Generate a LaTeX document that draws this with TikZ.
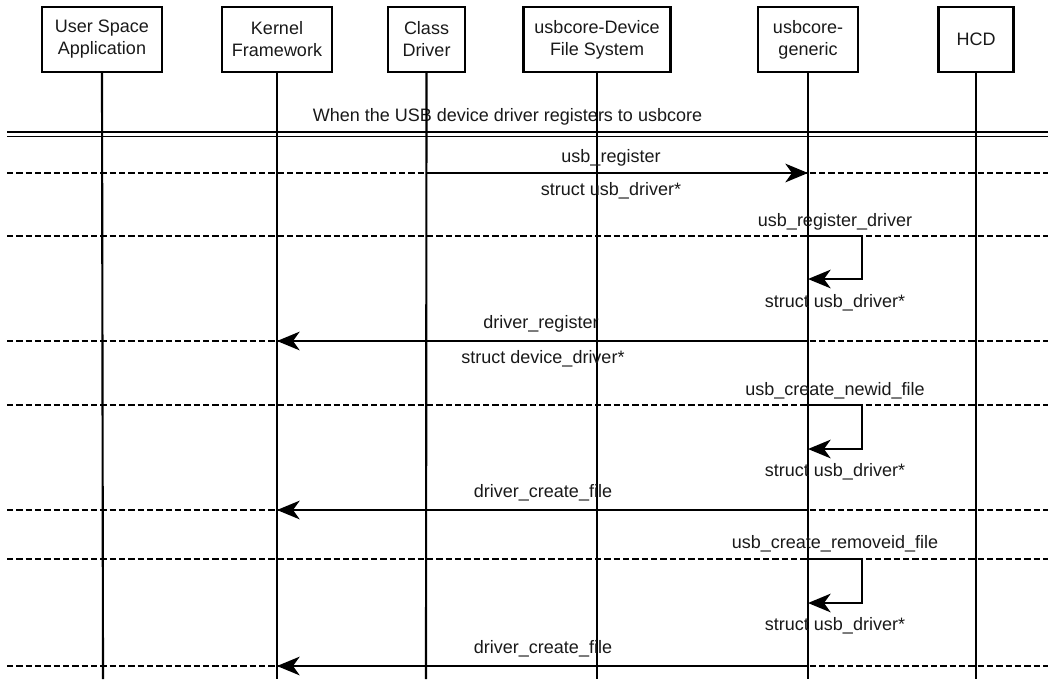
\documentclass[tikz,border=0pt]{standalone}
\usepackage{fontspec}
\setmainfont{Liberation Sans}
\usetikzlibrary{arrows.meta}
\begin{document}
\begin{tikzpicture}[x=0.75pt,y=-0.75pt,
  actor/.style={draw,line width=1.8pt,minimum height=48.75pt,align=center,
    font=\fontsize{13.5}{16.5}\selectfont,inner sep=1pt,text=black!90},
  life/.style={line width=1.6pt},
  sep/.style={line width=1.6pt,dash pattern=on 4.8pt off 2.2pt},
  dbl/.style={line width=1.4pt},
  msg/.style={line width=1.6pt,-{Stealth[length=17pt,width=14pt,inset=5pt]}},
  lbl/.style={font=\fontsize{13.5}{16}\selectfont,inner sep=0pt,anchor=base,text=black!90}]
\useasboundingbox (0,0) rectangle (1048,679);

% actors
\node[actor,minimum width=90pt]    (usa) at (102,39.5) {User Space\\Application};
\node[actor,minimum width=82.5pt]  (kf)  at (277,39.5) {Kernel\\Framework};
\node[actor,minimum width=57.75pt] (cd)  at (426.5,39.5) {Class\\Driver};
\node[actor,minimum width=110pt]   (fs)  at (597,39.5) {usbcore-Device\\File System};
\node[actor,minimum width=75pt]    (ug)  at (808,39.5) {usbcore-\\generic};
\node[actor,minimum width=56.5pt]  (hcd) at (976,39.5) {HCD};

% lifeline ends
\coordinate (usaE) at (103,679);
\coordinate (kfE)  at (277,679);
\coordinate (cdE)  at (426,679);
\coordinate (fsE)  at (597,679);
\coordinate (ugE)  at (808,679);
\coordinate (hcdE) at (976,679);

% section divider
\node[lbl] (sec) at (507.5,121) {When the USB device driver registers to usbcore};
\coordinate (dL1) at (7,132);   \coordinate (dR1) at (1048,132);
\coordinate (dL2) at (7,136.5); \coordinate (dR2) at (1048,136.5);
\draw[dbl] (dL1) -- (dR1);
\draw[dbl] (dL2) -- (dR2);

% dashed separators
\foreach \y/\n in {173/a,236/b,341/c,405/d,510/e,559/f,666/g}{
  \coordinate (sL\n) at (7,\y);
  \coordinate (sR\n) at (1048,\y);
  \draw[sep] (sL\n) -- (sR\n);
}

% lifelines
\draw[life] (usa.south) -- (usaE);
\draw[life] (kf.south) -- (kfE);
\draw[life] (cd.south) -- (cdE);
\draw[life] (fs.south) -- (fsE);
\draw[life] (ug.south) -- (ugE);
\draw[life] (hcd.south) -- (hcdE);

% message 1
\coordinate (m1s) at (426,173); \coordinate (m1e) at (808,173);
\draw[msg] (m1s) -- (m1e);
\node[lbl] (l1a) at (611,162) {usb\_register};
\node[lbl] (l1b) at (611,195) {struct usb\_driver*};

% message 2 (self)
\coordinate (m2s) at (808,236); \coordinate (m2r) at (862,236);
\coordinate (m2b) at (862,279); \coordinate (m2e) at (808,279);
\draw[msg] (m2s) -- (m2r) -- (m2b) -- (m2e);
\node[lbl] (l2a) at (835,226) {usb\_register\_driver};
\node[lbl] (l2b) at (835,307) {struct usb\_driver*};

% message 3
\coordinate (m3s) at (808,341); \coordinate (m3e) at (277,341);
\draw[msg] (m3s) -- (m3e);
\node[lbl] (l3a) at (541,328) {driver\_register};
\node[lbl] (l3b) at (543,363) {struct device\_driver*};

% message 4 (self)
\coordinate (m4s) at (808,405); \coordinate (m4r) at (862,405);
\coordinate (m4b) at (862,449); \coordinate (m4e) at (808,449);
\draw[msg] (m4s) -- (m4r) -- (m4b) -- (m4e);
\node[lbl] (l4a) at (835,395) {usb\_create\_newid\_file};
\node[lbl] (l4b) at (835,476) {struct usb\_driver*};

% message 5
\coordinate (m5s) at (808,510); \coordinate (m5e) at (277,510);
\draw[msg] (m5s) -- (m5e);
\node[lbl] (l5a) at (543,497) {driver\_create\_file};

% message 6 (self)
\coordinate (m6s) at (808,559); \coordinate (m6r) at (862,559);
\coordinate (m6b) at (862,603); \coordinate (m6e) at (808,603);
\draw[msg] (m6s) -- (m6r) -- (m6b) -- (m6e);
\node[lbl] (l6a) at (835,548) {usb\_create\_removeid\_file};
\node[lbl] (l6b) at (835,630) {struct usb\_driver*};

% message 7
\coordinate (m7s) at (808,666); \coordinate (m7e) at (277,666);
\draw[msg] (m7s) -- (m7e);
\node[lbl] (l7a) at (543,653) {driver\_create\_file};
\end{tikzpicture}
\end{document}
